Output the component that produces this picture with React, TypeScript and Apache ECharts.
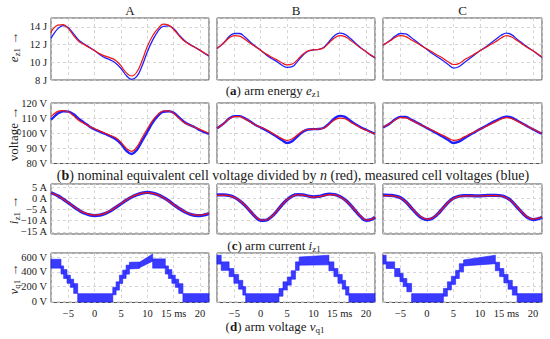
import { useEffect, useRef } from 'react';
import * as echarts from 'echarts';

const FONT = '"Liberation Serif", "DejaVu Serif", serif';
const BLUE = '#2020ff';
const RED = '#f01414';
const TXT = '#1a1a1a';

// shared time base (ms)
const T = [-8.3, -8, -7, -6, -5, -4, -3, -2, -1, 0, 1, 2, 3, 4, 5, 6, 7, 8, 9, 10, 11, 12, 13, 14, 15, 16, 17, 18, 19, 20, 21, 21.7];

const colTitles = ['A', 'B', 'C'];

// (a) arm energy (J)
const eRedA = [13.3, 13.7, 14.2, 14.25, 13.8, 13.0, 12.35, 12.0, 11.65, 11.3, 10.95, 10.7, 10.5, 10.2, 9.6, 8.8, 8.45, 8.9, 10.2, 11.8, 13.0, 13.8, 14.3, 14.2, 13.7, 13.0, 12.4, 12.0, 11.7, 11.35, 11.0, 10.75];
const eBlueA = [12.7, 13.0, 13.8, 14.15, 13.9, 13.2, 12.5, 12.05, 11.7, 11.3, 10.85, 10.5, 10.25, 9.9, 9.3, 8.5, 8.08, 8.4, 9.6, 11.2, 12.5, 13.5, 14.05, 14.1, 13.8, 13.1, 12.5, 12.05, 11.7, 11.35, 10.95, 10.7];
const eRedB = [11.55, 11.7, 12.2, 12.75, 13.0, 12.95, 12.6, 12.15, 11.75, 11.35, 10.95, 10.6, 10.3, 9.95, 9.7, 9.8, 10.3, 10.9, 11.3, 11.4, 11.45, 11.65, 12.2, 12.75, 13.0, 12.9, 12.5, 12.05, 11.6, 11.2, 10.8, 10.55];
const eBlueB = [11.55, 11.7, 12.2, 12.9, 13.25, 13.25, 12.85, 12.3, 11.8, 11.35, 10.85, 10.45, 10.1, 9.7, 9.42, 9.5, 10.1, 10.8, 11.25, 11.4, 11.45, 11.7, 12.35, 13.0, 13.3, 13.15, 12.7, 12.15, 11.65, 11.2, 10.75, 10.5];
const eRedC = [11.95, 12.05, 12.4, 12.8, 13.0, 12.9, 12.55, 12.2, 11.85, 11.5, 11.15, 10.8, 10.45, 10.05, 9.75, 9.85, 10.25, 10.6, 10.95, 11.3, 11.65, 12.0, 12.35, 12.75, 13.0, 12.85, 12.45, 12.05, 11.65, 11.3, 10.9, 10.6];
const eBlueC = [11.95, 12.05, 12.45, 12.95, 13.25, 13.2, 12.8, 12.35, 11.9, 11.45, 11.0, 10.6, 10.2, 9.75, 9.35, 9.5, 9.95, 10.4, 10.85, 11.3, 11.7, 12.15, 12.6, 13.05, 13.3, 13.1, 12.6, 12.15, 11.7, 11.3, 10.85, 10.55];

// (b) cell voltage (V)
const vRedA = [111, 112, 114.5, 115, 114, 111.5, 108.5, 106.5, 104.5, 103, 101.5, 100, 98.5, 97, 94, 90, 88, 91, 97, 103, 108.5, 112.5, 114.7, 114.8, 113, 110, 107, 105.5, 104, 102.5, 101, 100];
const vBlueA = [109, 110, 113, 114.5, 114.3, 112.5, 109.5, 107, 104.5, 102.5, 101, 99.5, 98, 96, 93, 88.5, 86.3, 89, 95, 101, 107, 111.5, 114.2, 114.5, 113.5, 110.5, 107.5, 105.5, 104, 102, 100.5, 99.5];
const vRedB = [103.3, 104, 106.5, 109.5, 111, 111, 109.5, 107.5, 105.5, 104, 102.5, 100.5, 98.5, 96.5, 95.2, 96.3, 99, 101.5, 102.5, 102.7, 102.8, 103.5, 106, 108.8, 110, 109.6, 107.5, 105.5, 103.5, 102, 100.5, 99.6];
const vBlueB = [103.3, 104, 106.5, 109.7, 111.3, 111.3, 109.8, 107.7, 105.5, 103.8, 102, 100, 97.8, 95.5, 93.6, 94.8, 98, 101, 102.5, 102.7, 102.8, 103.6, 106.5, 109.8, 111.5, 110.8, 108.3, 106, 104, 102.3, 100.7, 99.6];
const vRedC = [104, 104.5, 106.5, 108.8, 110.3, 110.2, 108.7, 107, 105.3, 103.6, 102, 100.3, 98.6, 96.8, 95.3, 95.8, 97.6, 99.3, 101, 102.7, 104.3, 106, 107.7, 109.4, 110.3, 109.7, 108, 106.2, 104.5, 102.8, 101, 100];
const vBlueC = [103.8, 104.3, 106.5, 109.2, 110.8, 110.7, 109, 107.2, 105.3, 103.4, 101.6, 99.7, 97.7, 95.5, 93.6, 94.4, 96.6, 98.7, 100.7, 102.7, 104.6, 106.5, 108.3, 110, 111, 110.3, 108.4, 106.4, 104.5, 102.6, 100.8, 99.8];

// (c) arm current (A)
const iRedA = [2.4, 2.2, 1.2, -0.3, -1.9, -3.6, -5.2, -6.4, -7.2, -7.5, -7.3, -6.6, -5.4, -3.9, -2.3, -0.7, 0.7, 1.7, 2.4, 2.6, 2.3, 1.6, 0.4, -1.1, -2.8, -4.4, -5.8, -6.9, -7.4, -7.5, -7.1, -6.6];
const iBlueA = [2.6, 2.3, 1.2, -0.3, -2.0, -3.7, -5.3, -6.6, -7.4, -7.7, -7.5, -6.8, -5.6, -4.0, -2.4, -0.8, 0.6, 1.7, 2.4, 2.7, 2.4, 1.7, 0.5, -1.0, -2.8, -4.5, -5.9, -7.0, -7.6, -7.7, -7.3, -6.8];
const iRedB = [1.3, 1.4, 1.5, 1.2, 0.5, -0.9, -3.0, -5.6, -8.1, -9.7, -9.7, -8.2, -5.8, -3.0, -0.6, 1.0, 1.6, 1.5, 1.0, 0.6, 0.8, 1.3, 1.7, 1.6, 0.8, -0.7, -2.9, -5.5, -8.0, -9.7, -9.4, -8.3];
const iBlueB = [1.5, 1.6, 1.6, 1.3, 0.5, -1.0, -3.1, -5.7, -8.3, -9.9, -9.8, -8.3, -5.9, -3.0, -0.6, 1.1, 1.7, 1.6, 1.1, 0.7, 0.9, 1.5, 2.0, 1.8, 0.9, -0.6, -2.9, -5.6, -8.2, -9.9, -9.5, -8.4];
const iRedC = [1.2, 1.3, 1.3, 1.0, 0.2, -1.5, -4.0, -6.6, -8.5, -9.3, -8.8, -7.0, -4.4, -1.8, 0.0, 0.9, 1.2, 1.2, 1.1, 1.1, 1.2, 1.3, 1.3, 1.1, 0.3, -1.3, -3.8, -6.4, -8.4, -9.3, -8.9, -8.2];
const iBlueC = [1.4, 1.5, 1.4, 1.1, 0.3, -1.5, -4.1, -6.7, -8.7, -9.5, -9.0, -7.1, -4.4, -1.8, 0.1, 1.0, 1.3, 1.3, 1.2, 1.2, 1.3, 1.4, 1.4, 1.2, 0.4, -1.3, -3.9, -6.5, -8.6, -9.5, -9.1, -8.4];

// (d) arm voltage: switching band (lower / upper envelope, V) at breakpoints (ms)
const dTA = [-8.3, -6.4, -6.4, -5.9, -5.9, -5.26, -5.26, -4.62, -4.62, -3.99, -3.99, -3.23, -3.23, 3.43, 3.43, 4.06, 4.06, 4.69, 4.69, 5.32, 5.32, 5.96, 5.96, 6.59, 6.59, 8.49, 8.49, 11.0, 11.0, 13.4, 13.4, 14.0, 14.0, 14.65, 14.65, 15.3, 15.3, 15.95, 15.95, 16.75, 16.75, 21.7];
const dLoA = [450, 450, 370, 370, 310, 310, 245, 245, 190, 190, 108, 108, -8, -8, 90, 90, 153, 153, 243, 243, 311, 311, 369, 369, 440, 445, 455, 545, 450, 450, 370, 370, 310, 310, 245, 245, 190, 190, 108, 108, -8, -8];
const dHiA = [570, 570, 480, 480, 430, 430, 355, 355, 300, 300, 240, 240, 105, 105, 190, 190, 265, 265, 355, 355, 423, 423, 490, 490, 530, 532, 530, 640, 575, 575, 480, 480, 430, 430, 355, 355, 300, 300, 240, 240, 105, 105];
const dTB = [-8.3, -7.5, -7.5, -6.0, -6.0, -5.1, -5.1, -4.2, -4.2, -3.4, -3.4, -2.85, -2.85, 3.47, 3.47, 4.23, 4.23, 5.05, 5.05, 5.8, 5.8, 6.6, 6.6, 7.3, 7.3, 12.95, 12.95, 13.9, 13.9, 14.66, 14.66, 15.48, 15.48, 16.12, 16.12, 16.75, 16.75, 21.7];
const dLoB = [505, 505, 420, 420, 335, 335, 245, 245, 165, 165, 85, 85, -8, -8, 70, 70, 155, 155, 220, 220, 300, 300, 420, 420, 490, 495, 415, 415, 335, 335, 245, 245, 165, 165, 85, 85, -8, -8];
const dHiB = [625, 625, 535, 535, 445, 445, 365, 365, 285, 285, 200, 200, 105, 105, 175, 175, 265, 265, 330, 330, 415, 415, 535, 535, 600, 625, 535, 535, 445, 445, 365, 365, 285, 285, 200, 200, 105, 105];
const dTC = [-8.3, -7.7, -7.7, -6.1, -6.1, -5.1, -5.1, -4.5, -4.5, -3.8, -3.8, -2.9, -2.9, 3.1, 3.1, 3.85, 3.85, 4.6, 4.6, 5.4, 5.4, 6.1, 6.1, 6.9, 6.9, 12.9, 12.9, 13.7, 13.7, 14.5, 14.5, 15.3, 15.3, 16.1, 16.1, 17.0, 17.0, 21.7];
const dLoC = [505, 505, 445, 445, 335, 335, 265, 265, 200, 200, 130, 130, -8, -8, 70, 70, 155, 155, 230, 230, 310, 310, 400, 400, 480, 510, 415, 415, 335, 335, 250, 250, 165, 165, 85, 85, -8, -8];
const dHiC = [625, 625, 535, 535, 445, 445, 378, 378, 310, 310, 243, 243, 105, 105, 175, 175, 265, 265, 340, 340, 420, 420, 510, 510, 560, 625, 530, 530, 445, 445, 365, 365, 285, 285, 200, 200, 105, 105];

// axis tick labels
const xTicks = [-5, 0, 5, 10, 15, 20];
const yTicksA = [8, 10, 12, 14];
const yTicksB = [80, 90, 100, 110, 120];
const yTicksC = [-15, -10, -5, 0, 5];
const yTicksD = [0, 200, 400, 600];

const lineRows = [
  [[eBlueA, eRedA], [eBlueB, eRedB], [eBlueC, eRedC]],
  [[vBlueA, vRedA], [vBlueB, vRedB], [vBlueC, vRedC]],
  [[iBlueA, iRedA], [iBlueB, iRedB], [iBlueC, iRedC]],
];
const bandCols = [[dTA, dLoA, dHiA], [dTB, dLoB, dHiB], [dTC, dLoC, dHiC]];

// layout
const COL_L = [51, 217, 383];
const COL_W = [158, 158, 159];
const ROW_T = [18, 103, 184, 253];
const ROW_H = [62, 60.5, 50, 49.5];
const Y_MIN = [8, 80, -16, -15];
const Y_MAX = [15, 120, 6.5, 655];
const Y_SPLIT = [4, 4, 4, 3];
const Y_TICKS = [yTicksA, yTicksB, yTicksC, yTicksD];
const Y_UNIT = ['J', 'V', 'A', 'V'];
const BLUE_W = [1.3, 2.4, 3.2];

const fmtNum = (v: number) => (v < 0 ? '\u2212' + Math.abs(v) : String(v));
const isIn = (list: number[], v: number) => list.some((t) => Math.abs(t - v) < 1e-6);

function buildOption() {
  const grid: any[] = [];
  const xAxis: any[] = [];
  const yAxis: any[] = [];
  const series: any[] = [];
  const splitLine = { show: true, lineStyle: { color: '#cccccc', type: [3, 3], width: 0.8 } };
  for (let r = 0; r < 4; r++) {
    for (let c = 0; c < 3; c++) {
      const idx = r * 3 + c;
      grid.push({
        left: COL_L[c], top: ROW_T[r], width: COL_W[c], height: ROW_H[r],
        show: true, borderColor: '#505050', borderWidth: 1, backgroundColor: 'transparent',
      });
      xAxis.push({
        type: 'value', gridIndex: idx, min: -8.3, max: 21.7, splitNumber: 6,
        axisLine: { show: false }, axisTick: { show: false }, splitLine,
        axisLabel: {
          show: r === 3, margin: 5, fontFamily: FONT, fontSize: 10.5, color: TXT,
          showMinLabel: false, showMaxLabel: false,
          formatter: (v: number) => (isIn(xTicks, v) ? (Math.abs(v - 15) < 1e-6 ? '15 ms' : fmtNum(v)) : ''),
        },
      });
      const ticks = Y_TICKS[r];
      const unit = Y_UNIT[r];
      yAxis.push({
        type: 'value', gridIndex: idx, min: Y_MIN[r], max: Y_MAX[r], splitNumber: Y_SPLIT[r],
        axisLine: { show: false }, axisTick: { show: false }, splitLine,
        axisLabel: {
          show: c === 0, margin: 4, fontFamily: FONT, fontSize: 10.5, color: TXT,
          formatter: (v: number) => (isIn(ticks, v) ? fmtNum(v) + ' ' + unit : ''),
        },
      });
      if (r < 3) {
        const [blue, red] = lineRows[r][c];
        series.push({
          type: 'line', xAxisIndex: idx, yAxisIndex: idx, showSymbol: false, smooth: 0.4, silent: true, z: 2,
          data: T.map((t, i) => [t, blue[i]]), lineStyle: { color: BLUE, width: BLUE_W[r] },
        });
        series.push({
          type: 'line', xAxisIndex: idx, yAxisIndex: idx, showSymbol: false, smooth: 0.4, silent: true, z: 3,
          data: T.map((t, i) => [t, red[i]]), lineStyle: { color: RED, width: 1.2 },
        });
      } else {
        const [dT, lo, hi] = bandCols[c];
        series.push({
          type: 'custom', xAxisIndex: idx, yAxisIndex: idx, silent: true, z: 2,
          data: dT.map((t, i) => [t, lo[i], hi[i]]),
          encode: { x: 0, y: [1, 2] },
          renderItem: (params: any, api: any) => {
            const i = params.dataIndex;
            if (i >= dT.length - 1 || dT[i + 1] === dT[i]) return null;
            const pts = [
              api.coord([dT[i], hi[i]]),
              api.coord([dT[i + 1], hi[i + 1]]),
              api.coord([dT[i + 1], lo[i + 1]]),
              api.coord([dT[i], lo[i]]),
            ];
            return { type: 'polygon', shape: { points: pts }, style: { fill: 'rgba(32,32,255,0.88)', stroke: BLUE, lineWidth: 0.6 } };
          },
        });
      }
    }
  }

  const mkRich = (fs: number) => ({
    i: { fontStyle: 'italic', fontSize: fs, fontFamily: FONT, lineHeight: 17, color: TXT },
    s: { fontSize: 9, fontFamily: FONT, lineHeight: 9, verticalAlign: 'bottom', color: TXT },
    b: { fontWeight: 'bold', fontSize: fs, fontFamily: FONT, lineHeight: 17, color: TXT },
  });
  const txt = (x: number, y: number, text: string, fs = 13, extra: any = {}) => ({
    type: 'text', x, y, silent: true, ...extra,
    style: { text, fontFamily: FONT, fontSize: fs, fill: TXT, align: 'center', verticalAlign: 'middle', rich: mkRich(fs) },
  });

  const graphic: any[] = [];
  colTitles.forEach((t, c) => graphic.push(txt(COL_L[c] + COL_W[c] / 2, 10, t)));
  graphic.push(txt(273, 90, '({b|a}) arm energy {i|e}{s|z1}'));
  graphic.push(txt(293, 175, '({b|b}) nominal equivalent cell voltage divided by {i|n} (red), measured cell voltages (blue)', 14));
  graphic.push(txt(274, 245, '({b|c}) arm current {i|i}{s|z1}'));
  graphic.push(txt(275, 326, '({b|d}) arm voltage {i|v}{s|q1}'));
  const rot = { rotation: Math.PI / 2 };
  graphic.push(txt(13, 47, '{i|e}{s|z1} \u2192', 13, rot));
  graphic.push(txt(13, 134, 'voltage \u2192', 13, rot));
  graphic.push(txt(13, 210, '{i|i}{s|z1} \u2192', 13, rot));
  graphic.push(txt(13, 279, '{i|v}{s|q1} \u2192', 13, rot));

  return { animation: false, backgroundColor: '#ffffff', grid, xAxis, yAxis, series, graphic };
}

export default function App() {
  const ref = useRef<HTMLDivElement>(null);
  useEffect(() => {
    const chart = echarts.init(ref.current!, null, { renderer: 'svg' });
    chart.setOption(buildOption() as any);
    return () => chart.dispose();
  }, []);
  return <div ref={ref} style={{ position: 'fixed', left: 0, top: 0, width: 550, height: 339 }} />;
}
